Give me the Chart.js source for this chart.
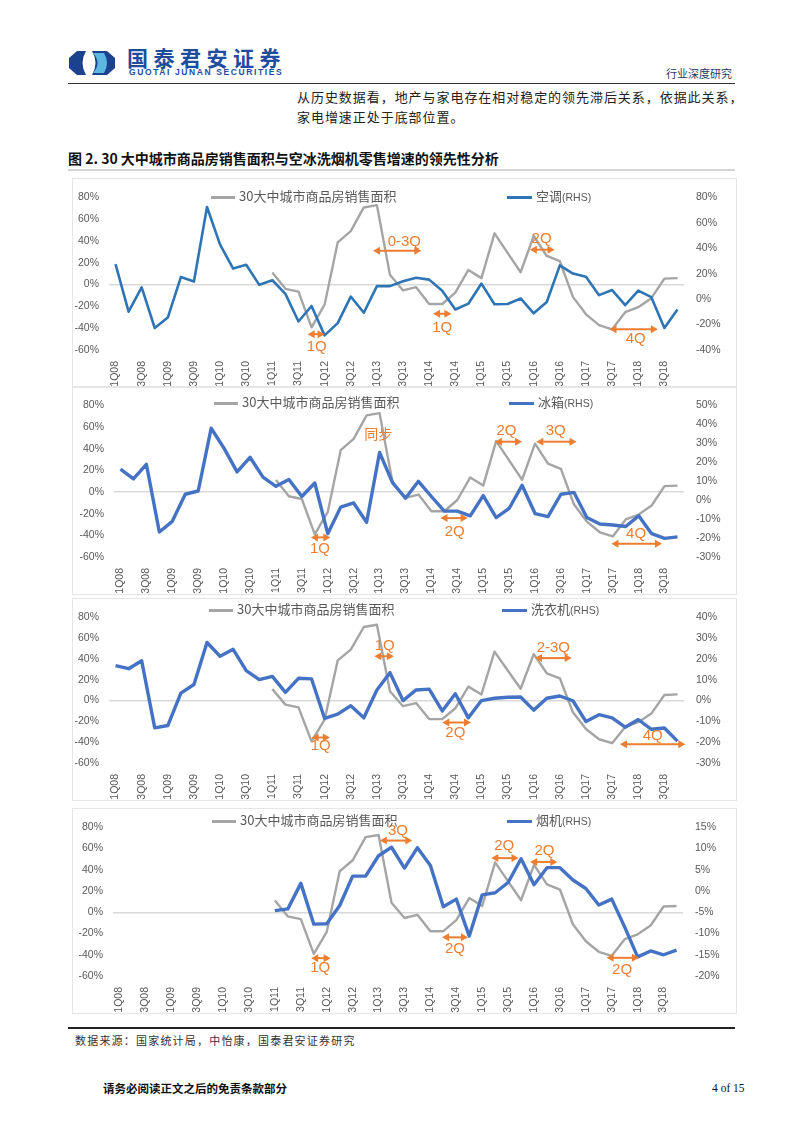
<!DOCTYPE html>
<html>
<head>
<meta charset="utf-8">
<script src="https://cdn.jsdelivr.net/npm/chart.js@4.4.0/dist/chart.umd.min.js"></script>
<style>
  body { margin: 0; background: #fff; }
  #page { position: relative; width: 802px; height: 1133px; overflow: hidden; font-family: "Noto Sans CJK SC", sans-serif; color: #222; }
  .abs { position: absolute; white-space: nowrap; }
  .panel { position: absolute; border: 1px solid #e6e6e6; box-sizing: border-box; }
  .panel canvas { position: absolute; left: 0; top: 0; }
  .leg { position: absolute; height: 16px; line-height: 16px; font-size: 13px; color: #595959; white-space: nowrap; }
  .leg i { display: inline-block; vertical-align: middle; margin-right: 4px; }
  .leg small { font-size: 10.5px; font-family: "Liberation Sans", Arial, sans-serif; }
</style>
</head>
<body>
<div id="page">
  <svg class="abs" style="left:69px;top:51px" width="46" height="24" viewBox="0 0 46 24">
    <path d="M8 0 L38 0 L46 7 L46 17 L38 24 L8 24 L0 17 L0 7 Z" fill="#1C418F"/>
    <path d="M24 2 Q33 12 24 22 L35 22 Q41 12 35 2 Z" fill="#5DB7E3"/>
    <path d="M17 0 Q10 12 17 24 L23 24 Q30 12 23 0 Z" fill="#fff"/>
  </svg>
  <div class="abs" style="left:127px;top:46px;font-size:21px;line-height:23px;font-weight:bold;letter-spacing:5.5px;color:#1E4C9E">国泰君安证券</div>
  <div class="abs" style="left:129px;top:67px;font-size:8.5px;line-height:10px;font-weight:bold;letter-spacing:1.6px;color:#1E4C9E;font-family:'Liberation Sans',Arial,sans-serif">GUOTAI JUNAN SECURITIES</div>
  <div class="abs" style="left:666px;top:66px;font-size:11px;line-height:14px;color:#1F3864">行业深度研究</div>
  <div class="abs" style="left:68px;top:83px;width:667px;height:1px;background:#333"></div>
  <div class="abs" style="left:297px;top:89px;font-size:13px;line-height:16px;letter-spacing:0.95px">从历史数据看，地产与家电存在相对稳定的领先滞后关系，依据此关系，</div>
  <div class="abs" style="left:297px;top:109px;font-size:13px;line-height:16px;letter-spacing:0.95px">家电增速正处于底部位置。</div>
  <div class="abs" style="left:68px;top:149px;font-size:14px;line-height:18px;font-weight:bold;color:#111">图 2. 30 大中城市商品房销售面积与空冰洗烟机零售增速的领先性分析</div>
  <div class="abs" style="left:68px;top:169px;width:667px;height:2px;background:#d4d4d4"></div>

  <div class="abs" style="left:68px;top:1027px;width:667px;height:1.5px;background:#222"></div>
  <div class="abs" style="left:75px;top:1033px;font-size:11px;line-height:14px;letter-spacing:1.2px;color:#333">数据来源：国家统计局，中怡康，国泰君安证券研究</div>
  <div class="abs" style="left:103px;top:1081px;font-size:11.5px;line-height:14px;font-weight:bold;color:#111">请务必阅读正文之后的免责条款部分</div>
  <div class="abs" style="left:712px;top:1081px;font-size:11.5px;line-height:14px;font-family:'Liberation Serif',serif;color:#111">4 of 15</div>
</div>
<script>
const quarters = [
  '1Q08','2Q08','3Q08','4Q08','1Q09','2Q09','3Q09','4Q09',
  '1Q10','2Q10','3Q10','4Q10','1Q11','2Q11','3Q11','4Q11',
  '1Q12','2Q12','3Q12','4Q12','1Q13','2Q13','3Q13','4Q13',
  '1Q14','2Q14','3Q14','4Q14','1Q15','2Q15','3Q15','4Q15',
  '1Q16','2Q16','3Q16','4Q16','1Q17','2Q17','3Q17','4Q17',
  '1Q18','2Q18','3Q18','4Q18'
];

// 30大中城市商品房销售面积 (left axis, %)
const housingSales = [
  null, null, null, null, null, null, null, null, null, null, null, null,
  11, -3.9, -6.5, -39.2, -18.4, 38.6, 49, 70.7, 72.8, 8.9, -5.4, -2.4,
  -17.8, -17.8, -7.4, 13.4, 5.9, 47, 29.1, 11.3, 44.6, 26.2, 21.4, -11.3,
  -27.3, -37.2, -41, -25.3, -20.8, -12.5, 5.4, 5.9
];

// retail growth, right axis (%)
const acSales = [
  27.5, -9.9, 9.2, -22.7, -14.5, 17.3, 13.8, 72.4, 42.8, 24, 27, 11.2,
  14.8, 4.1, -17.6, -5.4, -28.5, -18.9, 2, -10.7, 10.2, 10.2, 14, 16.8,
  15.3, 6.6, -8.2, -3.6, 12.2, -4.1, -3.8, 0.5, -11.2, -2.3, 26.5, 20.1,
  17.6, 3.1, 7.1, -4.8, 6.6, 1.5, -22.7, -8.2
];
const fridgeSales = [
  16.3, 11.2, 18.9, -16.8, -11.2, 3.1, 4.8, 37.9, 27.3, 14.9, 22.6, 12.1,
  7.3, 10.9, 1.9, 9, -17.7, -3.7, -1.5, -11.7, 25.1, 9.2, 1, 9.9,
  1.9, -5.8, -5.8, -8.3, 2.4, -9.2, -4.4, 7.8, -7.1, -8.7, 3.1, 4.1,
  -9.2, -12.6, -13.1, -13.9, -8.3, -17.7, -20.2, -19.4
];
const washerSales = [
  16.8, 15.3, 19.1, -13.1, -12, 3.6, 7.7, 27.9, 21.3, 24.6, 14.4, 10.1,
  11.6, 3.9, 10.7, 10.4, -8.6, -6.5, -2.5, -8.3, 5.1, 13.4, 0, 5.1,
  5.5, -5, 3.3, -8.3, 0, 1.1, 1.6, 1.7, -4.6, 1.1, 2.2, -0.1,
  -10.1, -6.8, -8.3, -12.8, -9.1, -13.8, -13.2, -19.5
];
const hoodSales = [
  null, null, null, null, null, null, null, null, null, null, null, null,
  -4.6, -4.2, 1.8, -7.8, -7.7, -3.4, 3.5, 3.5, 8.3, 10.3, 5.4, 10.2,
  6, -3.7, -1.9, -10.6, -0.9, -0.4, 2, 7.6, 1.5, 5.5, 5.5, 2.6,
  0.6, -3.3, -1.9, -8.5, -15.5, -14.1, -15, -13.9
];

// lead/lag notes: arrow from/to quarter index at left-axis value y, label at (lx, ly)
const acArrows = [
  { from: 19.7, to: 23.4, y: 31, text: '0-3Q', lx: 22.1, ly: 39 },
  { from: 14.7, to: 16.0, y: -45.5, text: '1Q', lx: 15.4, ly: -57 },
  { from: 24.3, to: 25.7, y: -26.8, text: '1Q', lx: 25.0, ly: -39.3 },
  { from: 31.7, to: 33.6, y: 32, text: '2Q', lx: 32.6, ly: 42 },
  { from: 37.8, to: 41.5, y: -41, text: '4Q', lx: 39.8, ly: -50 }
];
const fridgeArrows = [
  { from: 14.7, to: 16.2, y: -41.9, text: '1Q', lx: 15.4, ly: -52.9 },
  { text: '同步', lx: 19.9, ly: 54.2 },
  { from: 24.7, to: 26.8, y: -24.1, text: '2Q', lx: 25.8, ly: -36.8 },
  { from: 28.9, to: 31.0, y: 46.4, text: '2Q', lx: 29.8, ly: 56.2 },
  { from: 32.1, to: 35.2, y: 46.4, text: '3Q', lx: 33.6, ly: 56.2 },
  { from: 37.9, to: 41.8, y: -47.8, text: '4Q', lx: 39.8, ly: -38.4 }
];
const washerArrows = [
  { from: 15.0, to: 16.4, y: -35.5, text: '1Q', lx: 15.7, ly: -43.3 },
  { from: 19.8, to: 21.3, y: 42.6, text: '1Q', lx: 20.6, ly: 53 },
  { from: 25.0, to: 27.2, y: -21.1, text: '2Q', lx: 26.0, ly: -30.7 },
  { from: 32.1, to: 34.9, y: 40.8, text: '2-3Q', lx: 33.5, ly: 50.7 },
  { from: 38.6, to: 43.6, y: -42.1, text: '4Q', lx: 41.1, ly: -34 }
];
const hoodArrows = [
  { from: 14.8, to: 16.3, y: -43.2, text: '1Q', lx: 15.5, ly: -52.4 },
  { from: 20.1, to: 22.6, y: 67.5, text: '3Q', lx: 21.5, ly: 77 },
  { from: 24.9, to: 26.9, y: -23.6, text: '2Q', lx: 25.9, ly: -34.9 },
  { from: 28.7, to: 30.8, y: 51, text: '2Q', lx: 29.7, ly: 62.8 },
  { from: 31.7, to: 33.8, y: 47.4, text: '2Q', lx: 32.8, ly: 57.7 },
  { from: 37.6, to: 40.1, y: -42.9, text: '2Q', lx: 38.8, ly: -54.4 }
];

const housingName = '30大中城市商品房销售面积';

const panels = [
  { top: 178, height: 210, padTop: 14, yW: 36, y1W: 52, rMin: -40, rMax: 80, rStep: 20,
    data: acSales, name: '空调', color: '#2E75B6', bw: 2.6, arrows: acArrows, legY: 196, grayLeg: 211, blueLeg: 507 },
  { top: 386, height: 209, padTop: 13, yW: 41, y1W: 52, rMin: -30, rMax: 50, rStep: 10,
    data: fridgeSales, name: '冰箱', color: '#4472C4', bw: 3.4, arrows: fridgeArrows, legY: 402, grayLeg: 214, blueLeg: 509 },
  { top: 598, height: 203, padTop: 8, yW: 36, y1W: 52, rMin: -30, rMax: 40, rStep: 10,
    data: washerSales, name: '洗衣机', color: '#4472C4', bw: 3.4, arrows: washerArrows, legY: 609, grayLeg: 209, blueLeg: 502 },
  { top: 808, height: 206, padTop: 9, yW: 40, y1W: 53, rMin: -20, rMax: 15, rStep: 5,
    data: hoodSales, name: '烟机', color: '#4472C4', bw: 3.4, arrows: hoodArrows, legY: 820, grayLeg: 212, blueLeg: 507 }
];

const arrowPlugin = {
  id: 'leadArrows',
  afterDatasetsDraw(chart, args, opts) {
    const ctx = chart.ctx, xs = chart.scales.x, ys = chart.scales.y;
    ctx.save();
    ctx.strokeStyle = '#ED7D31';
    ctx.fillStyle = '#ED7D31';
    ctx.lineWidth = 2;
    (opts.items || []).forEach(a => {
      if (a.from != null) {
        const x0 = xs.getPixelForValue(a.from), x1 = xs.getPixelForValue(a.to);
        const y = ys.getPixelForValue(a.y);
        ctx.beginPath();
        ctx.moveTo(x0 + 5, y);
        ctx.lineTo(x1 - 5, y);
        ctx.stroke();
        [[x0, 1], [x1, -1]].forEach(([x, d]) => {
          ctx.beginPath();
          ctx.moveTo(x, y);
          ctx.lineTo(x + 7 * d, y - 4);
          ctx.lineTo(x + 7 * d, y + 4);
          ctx.closePath();
          ctx.fill();
        });
      }
      ctx.font = (a.text === '同步' ? '14px "Noto Sans CJK SC"' : '15px "Liberation Sans", Arial, sans-serif');
      ctx.textAlign = 'center';
      ctx.textBaseline = 'middle';
      ctx.fillText(a.text, xs.getPixelForValue(a.lx), ys.getPixelForValue(a.ly));
    });
    ctx.restore();
  }
};

const page = document.getElementById('page');
const tickFont = { family: '"Liberation Sans", Arial, sans-serif', size: 10.5 };

panels.forEach(p => {
  const box = document.createElement('div');
  box.className = 'panel';
  box.style.left = '72px';
  box.style.top = p.top + 'px';
  box.style.width = '665px';
  box.style.height = p.height + 'px';
  const cv = document.createElement('canvas');
  cv.width = 663;
  cv.height = p.height;
  box.appendChild(cv);
  page.appendChild(box);

  // legends
  const g = document.createElement('div');
  g.className = 'leg';
  g.style.left = p.grayLeg + 'px';
  g.style.top = (p.legY - 8) + 'px';
  g.innerHTML = '<i style="width:24px;height:2.5px;background:#A5A5A5"></i>' + housingName;
  page.appendChild(g);
  const b = document.createElement('div');
  b.className = 'leg';
  b.style.left = p.blueLeg + 'px';
  b.style.top = (p.legY - 8) + 'px';
  b.innerHTML = '<i style="width:25px;height:3px;background:' + p.color + '"></i>' + p.name + '<small>(RHS)</small>';
  page.appendChild(b);

  new Chart(cv, {
    type: 'line',
    data: {
      labels: quarters,
      datasets: [
        { label: p.name + '(RHS)', data: p.data, yAxisID: 'y1', borderColor: p.color,
          borderWidth: p.bw, pointRadius: 0, tension: 0, order: 0, borderJoinStyle: 'round' },
        { label: housingName, data: housingSales, yAxisID: 'y', borderColor: '#A5A5A5',
          borderWidth: 2.4, pointRadius: 0, tension: 0, order: 1, borderJoinStyle: 'round' }
      ]
    },
    plugins: [arrowPlugin],
    options: {
      responsive: false,
      animation: false,
      layout: { padding: { top: p.padTop, left: 0, right: 0, bottom: 0 } },
      plugins: {
        legend: { display: false },
        tooltip: { enabled: false },
        leadArrows: { items: p.arrows }
      },
      scales: {
        x: {
          offset: true,
          grid: { display: false },
          border: { display: false },
          ticks: {
            autoSkip: false, maxRotation: 90, minRotation: 90, padding: 3,
            font: tickFont, color: '#595959',
            callback: (v, i) => (i % 2 === 0 ? quarters[i] : '')
          },
          afterFit: s => { s.height = 39; }
        },
        y: {
          position: 'left', min: -60, max: 80,
          grid: {
            drawTicks: false, lineWidth: 1.5,
            color: c => (c.tick.value === 0 ? '#D9D9D9' : 'rgba(0,0,0,0)')
          },
          border: { display: false },
          ticks: { stepSize: 20, padding: 10, font: tickFont, color: '#595959', callback: v => v + '%' },
          afterFit: s => { s.width = p.yW; }
        },
        y1: {
          position: 'right', min: p.rMin, max: p.rMax,
          grid: { display: false, drawTicks: false },
          border: { display: false },
          ticks: { stepSize: p.rStep, padding: 12, font: tickFont, color: '#595959', callback: v => v + '%' },
          afterFit: s => { s.width = p.y1W; }
        }
      }
    }
  });
});
</script>
</body>
</html>
